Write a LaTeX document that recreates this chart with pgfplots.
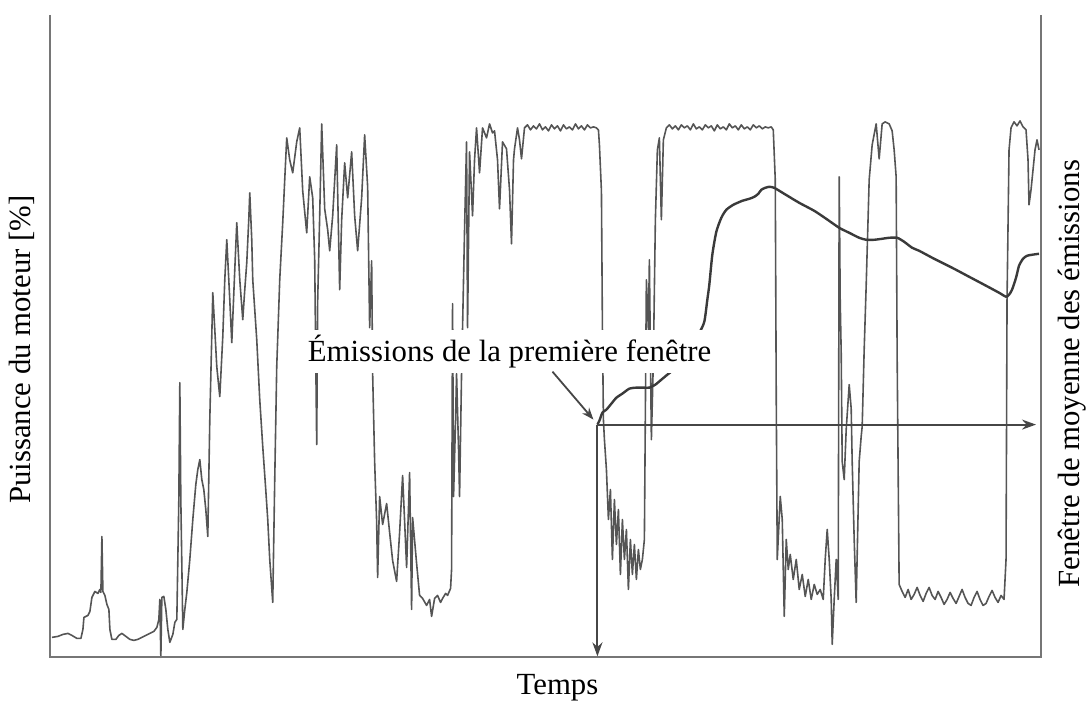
\documentclass[border=0pt]{standalone}
\usepackage{fontspec}
\setmainfont{Liberation Serif}
\usepackage{pgfplots}
\pgfplotsset{compat=1.18}
\usetikzlibrary{arrows.meta}

\definecolor{trace}{RGB}{85,85,85}
\definecolor{emis}{RGB}{58,58,58}
\definecolor{axgray}{RGB}{118,118,118}
\definecolor{arr}{RGB}{70,70,70}

\begin{document}
\begin{tikzpicture}
\begin{axis}[
  scale only axis, width=496pt, height=321.5pt,
  xmin=50, xmax=1042, ymin=15, ymax=658, y dir=reverse,
  hide axis, clip=false]
% page extent
\path (axis cs:0,0) rectangle (axis cs:1086,701);

% engine power trace
\addplot[trace, line width=0.8pt, line join=round] coordinates {
(52,638)(58,637)(63,635)(68,634)(72,636)(77,639)(81,639)(83,630)(84,618)(88,616)(90,612)(92,598)(95,592)(98,594)(100,590)(101,593)(102,537)(103,592)(105,596)(107,605)(109,610)(110,630)(112,640)(116,640)(119,636)(122,634)(126,637)(130,640)(134,641)(138,640)(142,638)(146,636)(150,634)(154,632)(157,628)(159,620)(160,600)(161,658)(162,598)(164,597)(166,610)(168,630)(170,643)(173,635)(175,623)(177,620)(179,500)(180,383)(181,500)(183,630)(185,610)(187,593)(190,560)(193,520)(196,485)(198,470)(200,460)(202,480)(204,490)(206,510)(208,537)(210,420)(213,293)(215,330)(217,367)(220,397)(223,337)(225,280)(227,240)(230,300)(232,343)(235,270)(237,223)(240,280)(243,320)(245,290)(247,263)(249,220)(250,193)(252,240)(253,280)(255,310)(257,340)(260,400)(263,447)(266,490)(268,520)(270,560)(273,603)(275,480)(277,367)(280,280)(283,223)(285,180)(287,138)
(290,160)(293,173)(297,142)(300,128)(303,191)(307,233)(310,177)(313,198)(315,260)(317,445)(318,300)(320,216)(322,124)(325,209)(328,230)(330,251)(333,216)(337,145)(340,290)(342,220)(345,163)(348,198)(352,152)(355,216)(358,251)(362,198)(365,135)(368,187)(370,328)(372,261)(373,374)(375,462)(377,522)(378,578)(380,497)(383,525)(387,504)(390,533)(393,561)(397,582)(400,533)(403,476)(407,568)(410,473)(412,610)(413,518)(417,564)(420,596)(423,599)(427,606)(430,600)(432,617)(435,599)(438,596)(441,603)(443,599)(446,594)(448,596)(451,589)(452,570)(453,304)(454,497)(456,420)(457,374)(459,450)(460,497)(462,374)(463,328)(465,230)(467,142)(468,328)(470,152)(473,216)(475,160)(477,128)
(480,173)(483,128)(487,138)(490,124)(493,133)(495,131)(498,160)(500,209)(503,142)(507,149)(510,190)(512,244)(514,160)(515,149)(518,128)(520,140)(522,159)(525,128)(528,125)(531,130)(534,126)(537,129)(540,124)(543,130)(546,127)(549,131)(552,125)(555,129)(558,126)(561,131)(564,125)(567,129)(570,127)(573,130)(576,124)(579,129)(582,126)(585,130)(588,125)(591,128)(594,127)(597,128)(599,130)(600,145)(602,191)(603,328)(604,420)(605,440)
(607,470)(609,520)(611,490)(613,560)(615,500)(617,545)(619,510)(621,575)(623,520)(625,560)(627,530)(629,590)(631,540)(633,575)(635,545)(637,580)(639,550)(641,570)(643,560)(645,540)(647,280)(649,330)(650,260)(652,440)(654,360)(656,220)(658,150)(660,138)(662,220)(664,140)(667,128)
(670,125)(673,129)(676,126)(679,130)(682,125)(685,128)(688,126)(691,130)(694,124)(697,129)(700,127)(703,130)(706,125)(709,128)(712,126)(715,131)(718,125)(721,129)(724,127)(727,130)(730,124)(733,128)(736,126)(739,130)(742,125)(745,129)(748,127)(751,130)(754,125)(757,128)(760,126)(763,129)(766,127)(769,128)(772,127)(774,130)(776,180)(777,400)(778,560)
(781,497)(783,520)(785,617)(787,540)(789,570)(791,555)(794,580)(797,560)(800,590)(803,575)(806,597)(809,580)(812,600)(815,585)(818,595)(821,590)(824,600)(826,560)(828,530)(830,560)(832,600)(833,645)(835,600)(837,560)(839,600)(840,177)(841,300)(842,353)(843,462)(845,480)(847,430)(850,385)(852,409)(853,462)(855,540)(857,603)(860,462)(862,437)(863,427)(865,350)(867,286)(870,180)(873,145)(877,124)(880,159)(883,124)(886,122)(890,124)(893,131)(895,150)(897,177)(898,356)(900,585)
(903,592)(906,598)(909,590)(912,600)(915,595)(918,588)(921,596)(924,602)(927,594)(930,588)(933,596)(936,600)(939,592)(942,598)(945,605)(948,600)(951,593)(954,599)(957,604)(960,597)(963,590)(966,598)(969,604)(972,606)(975,598)(978,592)(981,600)(984,606)(987,604)(990,597)(993,591)(996,598)(999,603)(1002,596)(1005,600)(1007,560)(1008,300)(1010,150)(1012,128)(1015,122)(1018,126)(1021,121)(1024,127)(1027,130)(1029,160)(1030,205)(1032,190)(1034,170)(1036,150)(1038,140)(1040,150)
};

% moving-window emissions
\addplot[emis, line width=1.2pt, smooth, tension=0.4] coordinates {
(598,425)(600,421)(603,413)(607,410)(612,404)(617,398)(623,394)(630,389)(637,388)(644,388)(650,388)(656,385)(662,380)(668,375)(673,371)(680,362)(688,350)(695,340)(700,333)(705,322)(708,300)(710,285)(713,255)(717,232)(722,218)(727,210)(734,205)(743,201)(750,199)(755,197)(759,194)(762,190)(766,188)(770,187)(775,188)(785,194)(800,203)(815,211)(827,219)(840,228)(850,233)(860,238)(867,240)(875,240)(883,239)(890,238)(898,238)(905,242)(913,248)(920,251)(935,259)(953,268)(970,277)(987,286)(1000,293)(1007,297)(1010,295)(1013,290)(1017,278)(1020,266)(1024,259)(1028,256)(1033,255)(1040,254)
};

% frame: left, bottom, right
\draw[axgray, line width=1pt] (axis cs:50,15) -- (axis cs:50,658) -- (axis cs:1042,658) -- (axis cs:1042,15);

% window arrows
\draw[arr, line width=1pt, -{Stealth[length=7pt,width=5pt]}] (axis cs:598,425) -- (axis cs:598,657);
\draw[arr, line width=1pt, -{Stealth[length=7pt,width=5pt]}] (axis cs:598,425) -- (axis cs:1037,425);

% annotation
\node[fill=white, inner sep=2.5pt, font=\fontsize{15.4}{18}\selectfont] at (axis cs:510,352) {Émissions de la première fenêtre};
\draw[arr, line width=0.9pt, -{Stealth[length=6pt,width=4.5pt]}] (axis cs:553,372) -- (axis cs:594,420);

% axis titles
\node[inner sep=0pt, font=\fontsize{15.4}{18}\selectfont] at (axis cs:558,688) {Temps};
\node[inner sep=0pt, rotate=90, font=\fontsize{15.4}{18}\selectfont] at (axis cs:22,350) {Puissance du moteur [\%]};
\node[inner sep=0pt, rotate=90, font=\fontsize{15.4}{18}\selectfont] at (axis cs:1073,374) {Fenêtre de moyenne des émissions};
\end{axis}
\end{tikzpicture}
\end{document}
